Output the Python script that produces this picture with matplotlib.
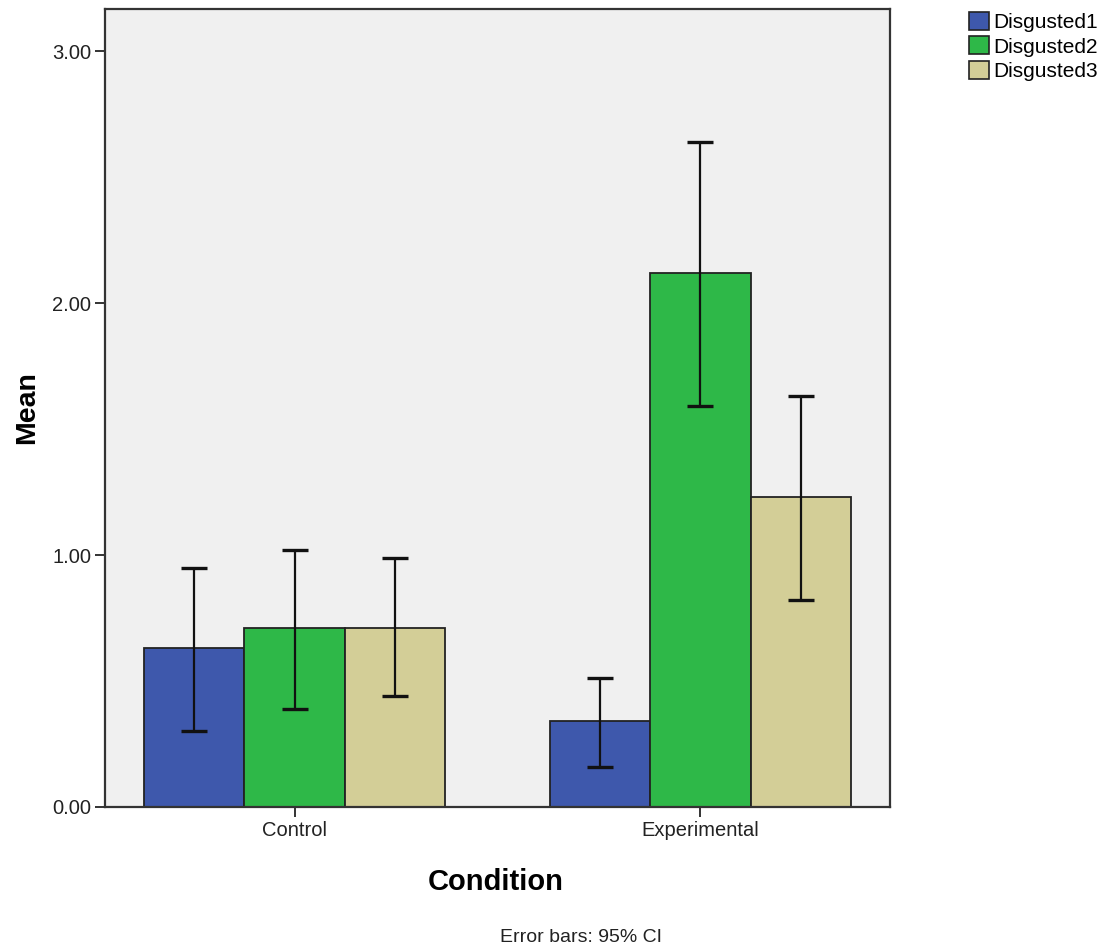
import matplotlib
matplotlib.use("Agg")
import matplotlib.pyplot as plt
import numpy as np
from matplotlib.patches import Patch

plt.rcParams['font.family'] = ['Liberation Sans', 'DejaVu Sans']

conditions = ["Control", "Experimental"]
series = ["Disgusted1", "Disgusted2", "Disgusted3"]
means = {
    "Disgusted1": [0.63, 0.34],
    "Disgusted2": [0.71, 2.12],
    "Disgusted3": [0.71, 1.23],
}
ci_low = {
    "Disgusted1": [0.30, 0.16],
    "Disgusted2": [0.39, 1.59],
    "Disgusted3": [0.44, 0.82],
}
ci_high = {
    "Disgusted1": [0.95, 0.51],
    "Disgusted2": [1.02, 2.64],
    "Disgusted3": [0.99, 1.63],
}
colors = ["#3E58AC", "#2EB848", "#D3CE97"]
yticks = [0.0, 1.0, 2.0, 3.0]

fig = plt.figure(figsize=(11.02, 9.49), dpi=100)
ax = fig.add_axes([105/1102, 1-807/949, (890-105)/1102, (807-9)/949])
ax.set_facecolor("#F0F0F0")

x = np.arange(len(conditions))
w = 0.247
for i, s in enumerate(series):
    pos = x + (i - 1) * w
    m = np.array(means[s])
    lo = m - np.array(ci_low[s])
    hi = np.array(ci_high[s]) - m
    ax.bar(pos, m, width=w, color=colors[i], edgecolor="#222222", linewidth=1.3, zorder=2)
    ax.errorbar(pos, m, yerr=[lo, hi], fmt="none", ecolor="#111111",
                elinewidth=1.6, capsize=9.5, capthick=2.4, zorder=3)

ax.set_xlim(-0.467, 1.467)
ax.set_ylim(0, 3.167)
ax.set_xticks(x)
ax.set_xticklabels(conditions, fontsize=14.5)
ax.set_yticks(yticks)
ax.set_yticklabels([f"{v:.2f}" for v in yticks], fontsize=14.5, color="#222222")
for lab in ax.get_xticklabels():
    lab.set_color("#222222")
ax.tick_params(axis="both", direction="out", length=7, width=1.4, color="#333333", pad=3)
for sp in ax.spines.values():
    sp.set_linewidth(1.6)
    sp.set_color("#333333")

ax.set_xlabel("Condition", fontsize=21, fontweight="bold")
ax.set_ylabel("Mean", fontsize=20.5, fontweight="bold")
ax.xaxis.set_label_coords((496 - 105) / (890 - 105), -(868 - 807) / (807 - 9))
ax.yaxis.set_label_coords(-(105 - 40) / (890 - 105), (807 - 408) / (807 - 9))

fig.text(581/1102, 1 - 938/949, "Error bars: 95% CI", fontsize=14, ha="center", va="center",
         color="#222222")

handles = [Patch(facecolor=c, edgecolor="#222222", linewidth=1.2) for c in colors]
fig.legend(handles, series, loc="upper left", bbox_to_anchor=(965/1102, 1 - 8/949),
           frameon=False, fontsize=15, handlelength=0.95, handleheight=0.95,
           handletextpad=0.2, labelspacing=0.2, borderpad=0.2, borderaxespad=0)

fig.savefig("out.png", dpi=100, facecolor="white")
